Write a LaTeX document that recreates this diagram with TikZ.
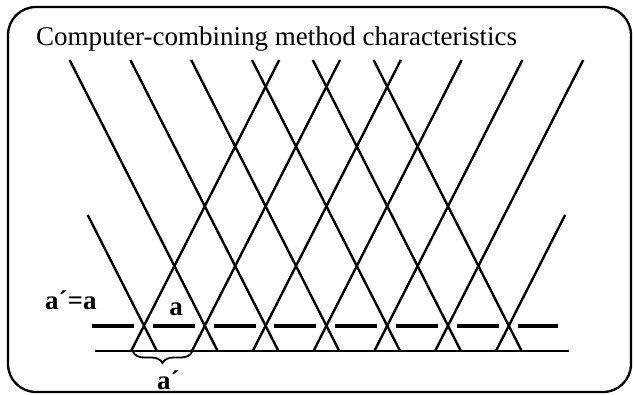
\documentclass[tikz,border=0pt]{standalone}
\usepackage{fontspec}
\setmainfont{Liberation Serif}
\usetikzlibrary{decorations.pathreplacing,calc}
\begin{document}
\begin{tikzpicture}[x=1pt,y=-1pt,
  charline/.style={line width=2.4pt},
  frameline/.style={line width=2.3pt, rounded corners=28pt},
  baseline/.style={line width=2pt},
  dashline/.style={line width=4pt, dash pattern=on 42pt off 18.8pt},
  lab/.style={inner sep=0pt, font=\bfseries\fontsize{27}{30}\selectfont},
  ttl/.style={inner sep=0pt, anchor=base west, font=\fontsize{27}{30}\selectfont}]
\useasboundingbox (0,0) rectangle (634,394);
\draw[frameline] (8,7) rectangle (631,392);
\node[ttl] (title) at (36,45) {Computer-combining method characteristics};
\foreach \k in {0,...,6} {\coordinate (c\k) at ({144+60.8*\k},325.7);}
% falling lines
\foreach \k in {1,...,6} {\draw[charline] ($(c\k)+(-135.2,-265.7)$) -- ($(c\k)+(12.7,25)$);}
% rising lines
\foreach \k in {0,...,5} {\draw[charline] ($(c\k)+(135.2,-265.7)$) -- ($(c\k)+(-12.7,25)$);}
% short lines
\draw[charline] ($(c0)+(-56.3,-110.7)$) -- ($(c0)+(12.7,25)$);
\draw[charline] ($(c6)+(56.3,-110.7)$) -- ($(c6)+(-12.7,25)$);
% dashed and solid lines
\coordinate (dL) at (92,325.7);
\coordinate (dR) at (558,325.7);
\draw[dashline] (dL) -- (dR);
\coordinate (sL) at (95,350.7);
\coordinate (sR) at (569,350.7);
\draw[baseline] (sL) -- (sR);
% brace
\coordinate (bL) at (133,352);
\coordinate (bR) at (192,352);
\draw[line width=1.8pt, decorate, decoration={brace, mirror, amplitude=11pt}] (bL) -- (bR);
% labels
\node[lab, anchor=base west] (aeq) at (45,309) {a´=a};
\node[lab, anchor=base] (alab) at (176,315) {a};
\node[lab, anchor=base west] (aprime) at (157,389) {a´};
\end{tikzpicture}
\end{document}
